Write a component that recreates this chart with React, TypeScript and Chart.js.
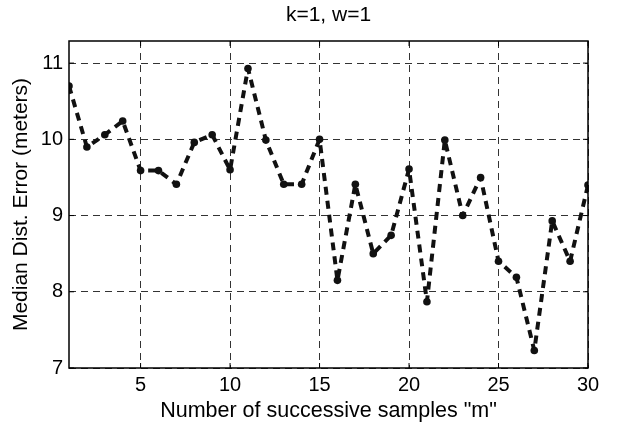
import React, { useEffect, useRef } from "react";
import { Chart, registerables } from "chart.js";

Chart.register(...registerables);

const samples = [1, 2, 3, 4, 5, 6, 7, 8, 9, 10, 11, 12, 13, 14, 15, 16, 17, 18, 19, 20, 21, 22, 23, 24, 25, 26, 27, 28, 29, 30];
const medianError = [10.70, 9.90, 10.06, 10.24, 9.59, 9.59, 9.41, 9.96, 10.06, 9.60, 10.93, 9.99, 9.41, 9.41, 10.0, 8.15, 9.41, 8.50, 8.74, 9.61, 7.87, 9.99, 9.0, 9.50, 8.40, 8.19, 7.23, 8.93, 8.40, 9.40];
const xTicks = [5, 10, 15, 20, 25, 30];
const yTicks = [7, 8, 9, 10, 11];
const titleText = "k=1, w=1";
const xLabel = 'Number of successive samples "m"';
const yLabel = "Median Dist. Error (meters)";

const FONT = "Arial, 'Liberation Sans', sans-serif";

const boxPlugin = {
  id: "box",
  afterDatasetsDraw(chart: any) {
    const { ctx, chartArea } = chart;
    ctx.save();
    ctx.strokeStyle = "#000";
    ctx.lineWidth = 1.5;
    ctx.setLineDash([]);
    ctx.strokeRect(chartArea.left, chartArea.top, chartArea.right - chartArea.left, chartArea.bottom - chartArea.top);
    const xs = chart.scales.x;
    const ys = chart.scales.y;
    ctx.lineWidth = 1;
    xTicks.forEach((t) => {
      const px = xs.getPixelForValue(t);
      ctx.beginPath();
      ctx.moveTo(px, chartArea.bottom);
      ctx.lineTo(px, chartArea.bottom - 5);
      ctx.moveTo(px, chartArea.top);
      ctx.lineTo(px, chartArea.top + 5);
      ctx.stroke();
    });
    yTicks.forEach((t) => {
      const py = ys.getPixelForValue(t);
      ctx.beginPath();
      ctx.moveTo(chartArea.left, py);
      ctx.lineTo(chartArea.left + 5, py);
      ctx.moveTo(chartArea.right, py);
      ctx.lineTo(chartArea.right - 5, py);
      ctx.stroke();
    });
    ctx.restore();
  },
};

export default function App() {
  const ref = useRef<HTMLCanvasElement | null>(null);
  useEffect(() => {
    document.body.style.margin = "0";
    const canvas = ref.current!;
    const chart = new Chart(canvas, {
      type: "line",
      data: {
        datasets: [
          {
            data: samples.map((x, i) => ({ x, y: medianError[i] })),
            borderColor: "#111",
            backgroundColor: "#111",
            borderWidth: 4,
            borderDash: [8, 6],
            borderJoinStyle: "bevel",
            pointRadius: 3.8,
            pointBorderWidth: 0,
            pointBackgroundColor: "#111",
            tension: 0,
            fill: false,
          },
        ],
      },
      options: {
        responsive: false,
        animation: false,
        events: [],
        layout: { padding: { top: 0, right: 34, left: 0, bottom: 0 } },
        plugins: {
          legend: { display: false },
          tooltip: { enabled: false },
          title: {
            display: true,
            text: titleText,
            fullSize: false,
            color: "#000",
            font: { family: FONT, size: 21, weight: "normal" },
            padding: { top: 2.4, bottom: 13.4 },
          },
        },
        scales: {
          x: {
            type: "linear",
            min: 1,
            max: 30,
            afterFit(scale: any) {
              scale.height = 56;
            },
            afterBuildTicks(scale: any) {
              scale.ticks = xTicks.map((v) => ({ value: v }));
            },
            ticks: {
              color: "#000",
              font: { family: FONT, size: 20 },
              padding: 5,
              maxRotation: 0,
            },
            grid: {
              color: "#333",
              lineWidth: 1,
              drawTicks: false,
            },
            border: { display: false, dash: [7, 5] },
            title: {
              display: true,
              text: xLabel,
              color: "#000",
              font: { family: FONT, size: 21.5 },
              padding: { top: 0, bottom: 0 },
            },
          },
          y: {
            type: "linear",
            min: 7,
            max: 11.29,
            afterFit(scale: any) {
              scale.width = 69;
            },
            afterBuildTicks(scale: any) {
              scale.ticks = yTicks.map((v) => ({ value: v }));
            },
            ticks: {
              color: "#000",
              font: { family: FONT, size: 20 },
              padding: 6,
            },
            grid: {
              color: "#333",
              lineWidth: 1,
              drawTicks: false,
            },
            border: { display: false, dash: [7, 5] },
            title: {
              display: true,
              text: yLabel,
              color: "#000",
              font: { family: FONT, size: 21 },
              padding: { top: 9, bottom: 0 },
            },
          },
        },
      },
      plugins: [boxPlugin],
    } as any);
    return () => chart.destroy();
  }, []);
  return <canvas ref={ref} width={622} height={424} style={{ display: "block" }} />;
}
